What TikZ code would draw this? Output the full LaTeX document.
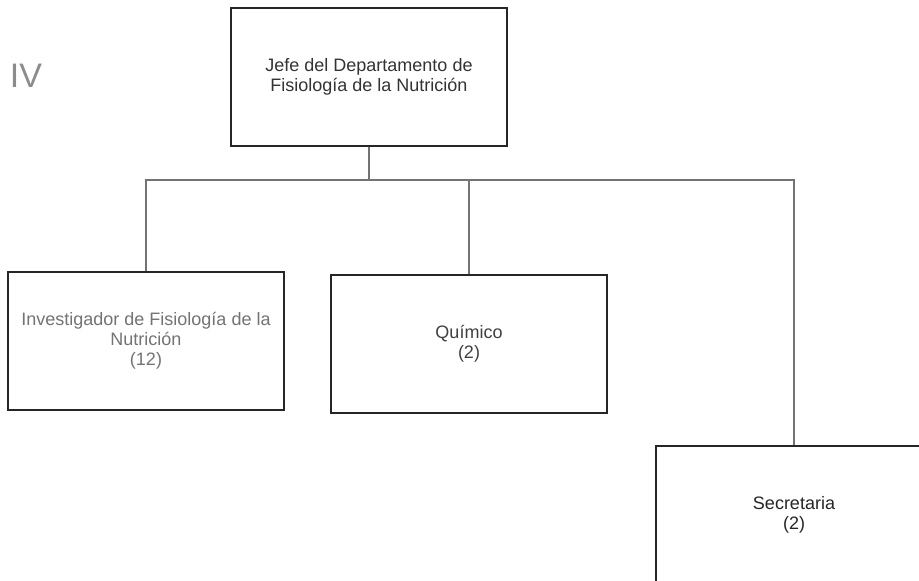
\documentclass[tikz,border=0pt]{standalone}
\usepackage{fontspec}
\setmainfont{Liberation Sans}
\usetikzlibrary{positioning}

\begin{document}
\begin{tikzpicture}[x=1pt, y=-1pt,
  post/.style={draw=black!85, line width=1.6pt, minimum width=276pt,
    minimum height=138pt, inner sep=0pt, align=center,
    font=\fontsize{18}{20}\selectfont},
  link/.style={draw=black!55, line width=1.3pt}]

\useasboundingbox (0,0) rectangle (919,581);

\def\busy{180}    % horizontal connector

% level mark
\node[text=black!45, font=\fontsize{34}{34}\selectfont] (nivel) at (26,76) {IV};

% head
\node[post, text=black!80] (jefe) at (369,77)
  {Jefe del Departamento de\\Fisiología de la Nutrición};

% staff
\foreach \name/\x/\y/\txt/\col in {
  inv/146/341/{Investigador de Fisiología de la\\Nutrición\\(12)}/black!55,
  quim/469/344/{Químico\\(2)}/black!75,
  sec/794/515/{Secretaria\\(2)}/black!85}
{
  \node[post, text=\col] (\name) at (\x,\y) {\txt};
}

\coordinate (bus) at (0,\busy);
\draw[link] (jefe.south) -- (jefe.south |- bus);
\draw[link] (inv.north) -- (inv.north |- bus) -- (bus -| sec.north) -- (sec.north);
\draw[link] (quim.north) -- (quim.north |- bus);

\end{tikzpicture}
\end{document}
